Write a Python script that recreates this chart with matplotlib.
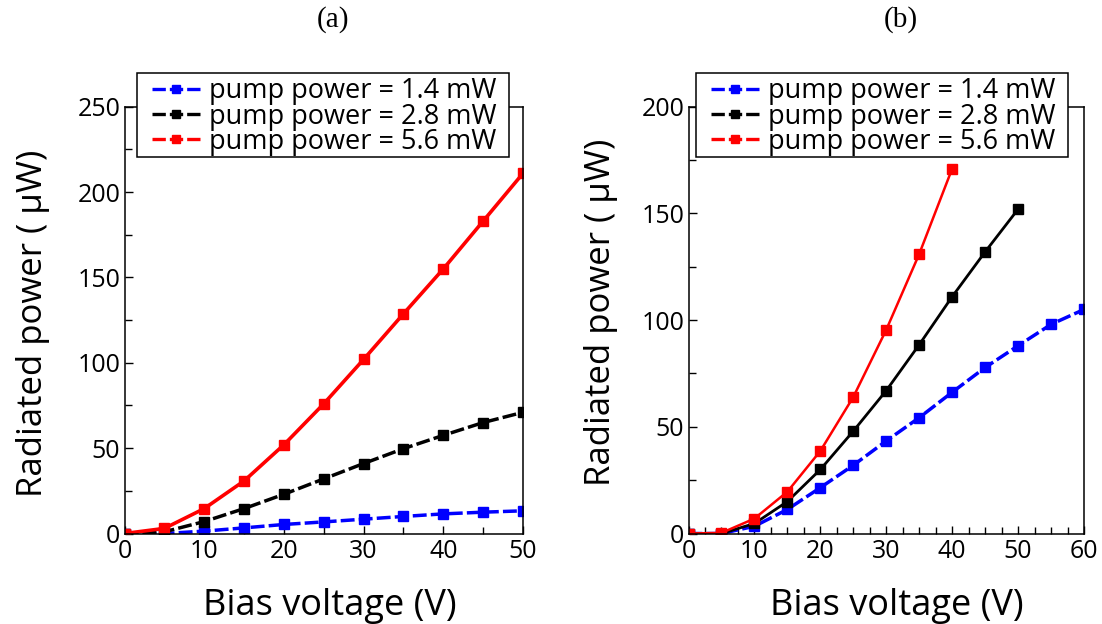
import matplotlib
matplotlib.use('Agg')
import numpy as np
import matplotlib.pyplot as plt
from matplotlib.lines import Line2D
from matplotlib.patches import Rectangle
from matplotlib.ticker import MultipleLocator

plt.rcParams['font.family'] = ['Open Sans', 'DejaVu Sans']

# (a) 数据
volt_a = [0, 5, 10, 15, 20, 25, 30, 35, 40, 45, 50]
p14_a = [0, 0, 1.4, 3.3, 5.3, 6.8, 8.4, 10, 11.5, 12.5, 13.3]
p28_a = [0, 1, 7, 14.6, 23, 32, 41, 49.7, 57.5, 65, 71]
p56_a = [0, 3, 14.6, 30.8, 52, 76, 102, 128.7, 155, 183, 211]

# (b) 数据
volt_b14 = [0, 5, 10, 15, 20, 25, 30, 35, 40, 45, 50, 55, 60]
p14_b = [0, 0, 3.4, 11.3, 21.5, 32, 43.4, 54.3, 66.2, 77.8, 88, 98, 105]
volt_b28 = [0, 5, 10, 15, 20, 25, 30, 35, 40, 45, 50]
p28_b = [0, 0, 4.7, 15, 30, 48, 67, 88.5, 111, 132, 152]
volt_b56 = [0, 5, 10, 15, 20, 25, 30, 35, 40]
p56_b = [0, 0.3, 7, 19.6, 38.7, 64, 95.5, 131, 171]

labels = ['pump power = 1.4 mW', 'pump power = 2.8 mW', 'pump power = 5.6 mW']
colors = ['#0000ff', '#000000', '#ff0000']

fig = plt.figure(figsize=(11.02, 6.24), dpi=100)
ax1 = fig.add_axes([0.113, 0.145, 0.3616, 0.684])
ax2 = fig.add_axes([0.6248, 0.145, 0.3589, 0.684])

dash = (0, (4, 1.2))

ax1.plot(volt_a, p14_a, color=colors[0], ls=dash, lw=2.5, marker='s', ms=7)
ax1.plot(volt_a, p28_a, color=colors[1], ls=dash, lw=2.5, marker='s', ms=7)
ax1.plot(volt_a, p56_a, color=colors[2], ls='-', lw=2.6, marker='s', ms=7)

ax2.plot(volt_b14, p14_b, color=colors[0], ls=dash, lw=2.5, marker='s', ms=7)
ax2.plot(volt_b28, p28_b, color=colors[1], ls='-', lw=2.0, marker='s', ms=7)
ax2.plot(volt_b56, p56_b, color=colors[2], ls='-', lw=1.8, marker='s', ms=7)

# 坐标轴设置
for ax, xmax, ymax, ypad in [(ax1, 50, 250, 20), (ax2, 60, 200, 17)]:
    ax.set_xlim(0, xmax)
    ax.set_ylim(0, ymax)
    ax.xaxis.set_major_locator(MultipleLocator(10))
    ax.yaxis.set_major_locator(MultipleLocator(50))
    ax.yaxis.set_minor_locator(MultipleLocator(25))
    ax.tick_params(which='both', direction='in', labelsize=18, top=False, right=False)
    ax.tick_params(which='major', length=6, width=1)
    ax.tick_params(which='minor', length=5, width=1)
    ax.tick_params(axis='x', which='major', pad=4)
    ax.tick_params(axis='y', which='major', pad=3)
    for s in ax.spines.values():
        s.set_linewidth(1.1)
    ax.set_xlabel('Bias voltage (V)', fontsize=26, labelpad=17)
    ax.set_ylabel('Radiated power ( μW)', fontsize=25, labelpad=ypad)

ax1.xaxis.set_minor_locator(MultipleLocator(5))
ax2.xaxis.set_minor_locator(MultipleLocator(2.5))

ax1.xaxis.label.set_x(0.514)
ax2.xaxis.label.set_x(0.527)
ax1.yaxis.label.set_y(0.493)
ax2.yaxis.label.set_y(0.519)

# 图例 (边框单独画, 比文字留更宽的左右边距)
handles = [Line2D([], [], color=c, ls=dash, lw=2.4, marker='s', ms=6) for c in colors]
for rx, hx in [(0.1243, 0.138), (0.6316, 0.6452)]:
    fig.patches.append(Rectangle((rx, 0.7476), 0.3376, 0.1362, transform=fig.transFigure,
                                 facecolor='white', edgecolor='black', lw=1.1, zorder=3))
    fig.legend(handles, labels, loc='upper left', bbox_to_anchor=(hx, 0.876),
               bbox_transform=fig.transFigure, fontsize=19.5, frameon=False,
               borderaxespad=0, borderpad=0, handlelength=1.8, handletextpad=0.3,
               labelspacing=-0.1)

fig.text(0.302, 0.968, '(a)', ha='center', va='center', fontsize=21, family='Liberation Serif')
fig.text(0.817, 0.968, '(b)', ha='center', va='center', fontsize=21, family='Liberation Serif')

fig.savefig('out.png', dpi=100)
plt.close(fig)
